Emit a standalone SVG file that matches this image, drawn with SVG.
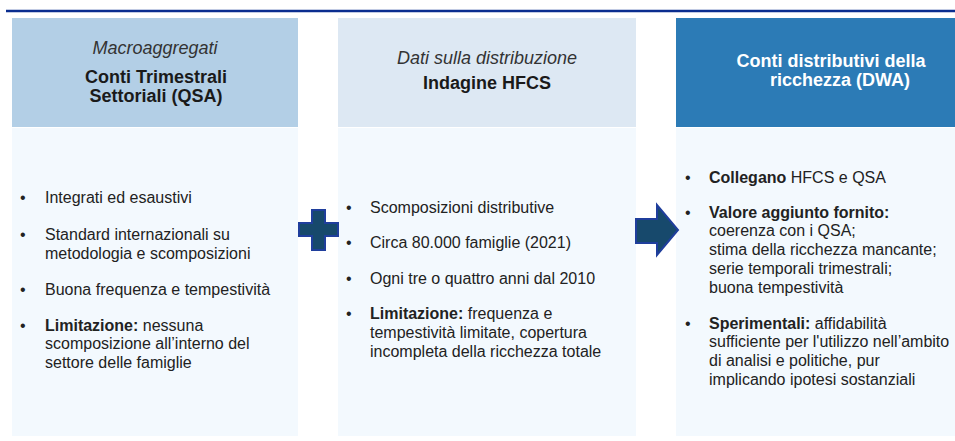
<svg xmlns="http://www.w3.org/2000/svg" width="955" height="441" viewBox="0 0 955 441">
<style>
text{font-family:"Liberation Sans",Arial,sans-serif;}
.hd{font-size:18px;fill:#1a1a1a;text-anchor:middle}
.it{font-style:italic;font-weight:normal;fill:#333333}
.bd{font-weight:bold}
.wh{fill:#ffffff;font-weight:bold}
.tx{font-size:16px;fill:#222222}
.body{fill:#f3f9fe}
.sym{fill:#17496c;stroke:#1f3e9c;stroke-width:2}
</style>
<rect width="955" height="441" fill="#ffffff"/>
<line x1="6" y1="11" x2="955" y2="11" stroke="#0a2d8f" stroke-width="2.5"/>

<g id="qsa">
<rect x="12" y="18" width="286" height="109" fill="#b3cfe6"/>
<rect class="body" x="12" y="128" width="286" height="308"/>
<text class="hd it" x="155" y="54">Macroaggregati</text>
<text class="hd bd" x="156" y="83">Conti Trimestrali</text>
<text class="hd bd" x="156" y="102">Settoriali (QSA)</text>
<g class="tx">
<text x="20" y="203">•</text><text x="45" y="203">Integrati ed esaustivi</text>
<text x="20" y="240">•</text><text x="45" y="240">Standard internazionali su</text>
<text x="45" y="259">metodologia e scomposizioni</text>
<text x="20" y="295">•</text><text x="45" y="295">Buona frequenza e tempestività</text>
<text x="20" y="331">•</text><text x="45" y="331"><tspan class="bd">Limitazione:</tspan> nessuna</text>
<text x="45" y="349">scomposizione all’interno del</text>
<text x="45" y="368">settore delle famiglie</text>
</g>
</g>

<g id="hfcs">
<rect x="338" y="18" width="298" height="109" fill="#dde8f3"/>
<rect class="body" x="338" y="128" width="298" height="308"/>
<text class="hd it" x="487" y="64">Dati sulla distribuzione</text>
<text class="hd bd" x="487" y="89">Indagine HFCS</text>
<g class="tx">
<text x="346" y="213">•</text><text x="370" y="213">Scomposizioni distributive</text>
<text x="346" y="248">•</text><text x="370" y="248">Circa 80.000 famiglie (2021)</text>
<text x="346" y="284">•</text><text x="370" y="284">Ogni tre o quattro anni dal 2010</text>
<text x="346" y="319">•</text><text x="370" y="319"><tspan class="bd">Limitazione:</tspan> frequenza e</text>
<text x="370" y="338">tempestività limitate, copertura</text>
<text x="370" y="357">incompleta della ricchezza totale</text>
</g>
</g>

<g id="dwa">
<rect x="676" y="18" width="279" height="109" fill="#2c7bb6"/>
<rect class="body" x="676" y="128" width="279" height="308"/>
<text class="hd wh" x="831" y="67">Conti distributivi della</text>
<text class="hd wh" x="840" y="86">ricchezza (DWA)</text>
<g class="tx">
<text x="685" y="183">•</text><text x="709" y="183"><tspan class="bd">Collegano</tspan> HFCS e QSA</text>
<text x="685" y="218">•</text><text x="709" y="218" class="bd">Valore aggiunto fornito:</text>
<text x="709" y="236">coerenza con i QSA;</text>
<text x="709" y="255">stima della ricchezza mancante;</text>
<text x="709" y="274">serie temporali trimestrali;</text>
<text x="709" y="293">buona tempestività</text>
<text x="685" y="329">•</text><text x="709" y="329"><tspan class="bd">Sperimentali:</tspan> affidabilità</text>
<text x="709" y="347">sufficiente per l'utilizzo nell’ambito</text>
<text x="709" y="366">di analisi e politiche, pur</text>
<text x="709" y="385">implicando ipotesi sostanziali</text>
</g>
</g>

<g id="connectors">
<path class="sym" d="M312,210 H325 V223 H338 V236 H325 V250 H312 V236 H299 V223 H312 Z"/>
<path class="sym" d="M636,219 H657 V205 L678,230 L657,255 V243 H636 Z"/>
</g>
</svg>
